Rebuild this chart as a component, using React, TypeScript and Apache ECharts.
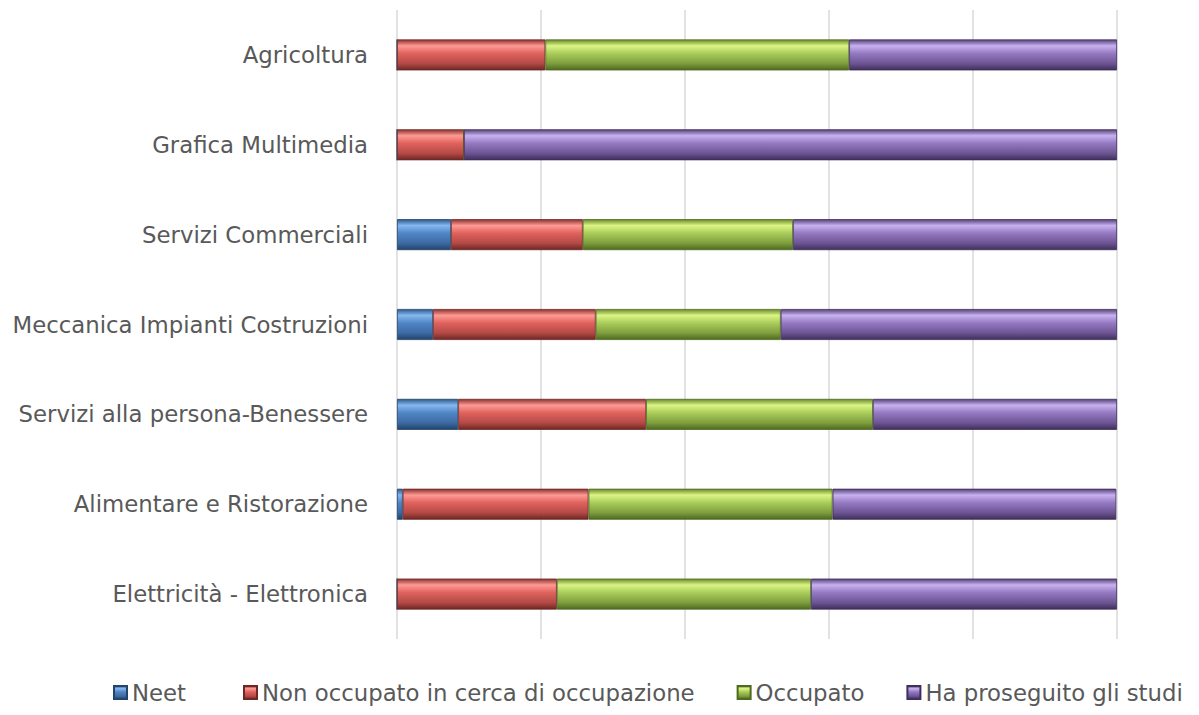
import React, { useEffect, useRef } from "react";
import * as echarts from "echarts";

const categories = [
  "Agricoltura",
  "Grafica Multimedia",
  "Servizi Commerciali",
  "Meccanica Impianti Costruzioni",
  "Servizi alla persona-Benessere",
  "Alimentare e Ristorazione",
  "Elettricità - Elettronica",
];
const seriesNames = ["Neet", "Non occupato in cerca di occupazione", "Occupato", "Ha proseguito gli studi"];
const neet = [0, 0, 7.5, 5.0, 8.5, 0.8, 0];
const nonOccupato = [20.6, 9.3, 18.3, 22.6, 26.1, 25.8, 22.2];
const occupato = [42.2, 0, 29.2, 25.7, 31.5, 33.9, 35.3];
const proseguito = [37.2, 90.7, 45.0, 46.7, 33.9, 39.4, 42.5];
const xTicks = [0, 20, 40, 60, 80, 100];

const palettes = [
  ["#2f5a8c", "#86b8f0", "#4f86c6", "#3d6aa3", "#22446b"],
  ["#8c3331", "#ff9a94", "#e0625d", "#b44a46", "#6e2725"],
  ["#6a8a2c", "#dcf585", "#a9cc5a", "#7f9e3e", "#4e6a20"],
  ["#57427a", "#c8b2f0", "#9579c2", "#6d5593", "#3f2f5c"],
];

function grad(p: string[]) {
  return new echarts.graphic.LinearGradient(0, 0, 0, 1, [
    { offset: 0, color: p[0] },
    { offset: 0.2, color: p[1] },
    { offset: 0.45, color: p[2] },
    { offset: 0.78, color: p[3] },
    { offset: 1, color: p[4] },
  ]);
}

export default function App() {
  const ref = useRef<HTMLDivElement>(null);
  useEffect(() => {
    const chart = echarts.init(ref.current!, null, { renderer: "svg" });
    const data = [neet, nonOccupato, occupato, proseguito];
    const font = "'DejaVu Sans', sans-serif";
    const legendBase = {
      bottom: 6,
      itemWidth: 13,
      itemHeight: 13,
      itemGap: 42,
      icon: "rect",
      textStyle: { fontFamily: font, fontSize: 22.8, color: "#595959" },
    };
    chart.setOption({
      animation: false,
      backgroundColor: "#ffffff",
      grid: { left: 397, right: 82, top: 10, bottom: 76, containLabel: false },
      legend: [
        { ...legendBase, left: 108, data: [seriesNames[0]] },
        { ...legendBase, left: 238, data: seriesNames.slice(1) },
      ],
      xAxis: {
        type: "value",
        min: xTicks[0],
        max: xTicks[xTicks.length - 1],
        interval: 20,
        axisLabel: { show: false },
        axisLine: { show: false },
        axisTick: { show: false },
        splitLine: { show: true, lineStyle: { color: "#d9d9d9", width: 1.5 } },
      },
      yAxis: {
        type: "category",
        inverse: true,
        data: categories,
        axisLine: { show: false },
        axisTick: { show: false },
        axisLabel: { margin: 29, fontFamily: font, fontSize: 22.8, color: "#595959" },
      },
      series: seriesNames.map((name, i) => ({
        name,
        type: "bar",
        stack: "total",
        barWidth: 31,
        data: data[i],
        itemStyle: { color: grad(palettes[i]), borderColor: palettes[i][4], borderWidth: 0.8 },
      })),
    });
    return () => chart.dispose();
  }, []);
  return <div ref={ref} style={{ width: 1199, height: 715, position: "absolute", left: 0, top: 0 }} />;
}
